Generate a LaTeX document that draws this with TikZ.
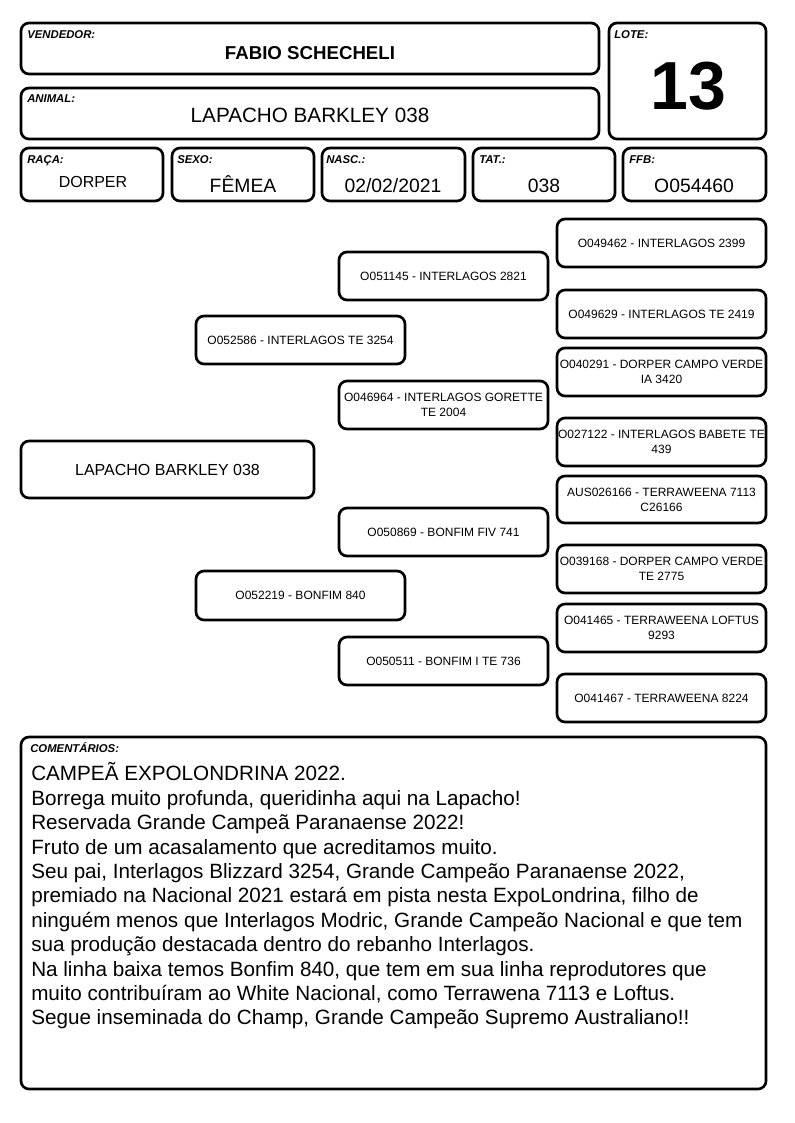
\documentclass[tikz,border=0pt]{standalone}
\usepackage{fontspec}
\setmainfont{Liberation Sans}
\begin{document}
\begin{tikzpicture}[x=0.75pt,y=-0.75pt,
  box/.style={draw,line width=2pt,rounded corners=6pt},
  tag/.style={anchor=base west,inner sep=0pt,font=\fontsize{8.5}{9}\selectfont\bfseries\itshape},
  val/.style={anchor=base,inner sep=0pt,font=\fontsize{14.5}{17}\selectfont},
  ped/.style={inner sep=0pt,align=center,font=\fontsize{9}{11.25}\selectfont}]
\useasboundingbox (0,0) rectangle (794,1123);

% header boxes
\draw[box] (21,23) rectangle (599,74);
\draw[box] (21,88) rectangle (599,139);
\draw[box] (609,23) rectangle (766,139);
\draw[box] (21,148) rectangle (163,201);
\draw[box] (172,148) rectangle (314,201);
\draw[box] (322,148) rectangle (465,201);
\draw[box] (473,148) rectangle (615,201);
\draw[box] (623,148) rectangle (766,201);

\node[tag] (vendedor) at (27,39) {VENDEDOR:};
\node[val,font=\fontsize{14}{17}\selectfont\bfseries] (seller) at (310,60) {FABIO SCHECHELI};
\node[tag] (animal) at (27,103) {ANIMAL:};
\node[val,font=\fontsize{15.5}{18}\selectfont] (name) at (310,123) {LAPACHO BARKLEY 038};
\node[tag] (lote) at (614,39) {LOTE:};
\node[val,font=\fontsize{51}{55}\selectfont\bfseries] (lotno) at (688,110) {13};

\node[tag] (raca) at (27,164) {RAÇA:};
\node[val,font=\fontsize{12}{14}\selectfont] (breed) at (93,188) {DORPER};
\node[tag] (sexo) at (177,164) {SEXO:};
\node[val] (sex) at (243,193) {FÊMEA};
\node[tag] (nasc) at (326,164) {NASC.:};
\node[val] (birth) at (393,193) {02/02/2021};
\node[tag] (tat) at (479,164) {TAT.:};
\node[val] (tattoo) at (544,193) {038};
\node[tag] (ffb) at (629,164) {FFB:};
\node[val] (reg) at (694,193) {O054460};

% pedigree
\draw[box] (21,441) rectangle (314,498);
\node[ped,font=\fontsize{12}{14}\selectfont] (calf) at (167.5,469.5) {LAPACHO BARKLEY 038};

\draw[box] (196,316) rectangle (405,364);
\node[ped] (sire) at (300.5,340) {O052586 - INTERLAGOS TE 3254};
\draw[box] (196,571) rectangle (405,620);
\node[ped] (dam) at (300.5,595.5) {O052219 - BONFIM 840};

\draw[box] (339,252) rectangle (548,300);
\node[ped] (ss) at (443.5,276) {O051145 - INTERLAGOS 2821};
\draw[box] (339,381) rectangle (548,429);
\node[ped] (sd) at (443.5,405) {O046964 - INTERLAGOS GORETTE\\TE 2004};
\draw[box] (339,508) rectangle (548,556);
\node[ped] (ds) at (443.5,532) {O050869 - BONFIM FIV 741};
\draw[box] (339,637) rectangle (548,685);
\node[ped] (dd) at (443.5,661) {O050511 - BONFIM I TE 736};

\draw[box] (557,219) rectangle (766,267);
\node[ped] (sss) at (661.5,243) {O049462 - INTERLAGOS 2399};
\draw[box] (557,290) rectangle (766,338);
\node[ped] (ssd) at (661.5,314) {O049629 - INTERLAGOS TE 2419};
\draw[box] (557,348) rectangle (766,396);
\node[ped] (sds) at (661.5,372) {O040291 - DORPER CAMPO VERDE\\IA 3420};
\draw[box] (557,418) rectangle (766,466);
\node[ped] (sdd) at (661.5,442) {O027122 - INTERLAGOS BABETE TE\\439};
\draw[box] (557,476) rectangle (766,523);
\node[ped] (dss) at (661.5,499.5) {AUS026166 - TERRAWEENA 7113\\C26166};
\draw[box] (557,545) rectangle (766,593);
\node[ped] (dsd) at (661.5,569) {O039168 - DORPER CAMPO VERDE\\TE 2775};
\draw[box] (557,604) rectangle (766,652);
\node[ped] (dds) at (661.5,628) {O041465 - TERRAWEENA LOFTUS\\9293};
\draw[box] (557,674) rectangle (766,722);
\node[ped] (ddd) at (661.5,698) {O041467 - TERRAWEENA 8224};

% comments
\draw[box] (21,737) rectangle (766,1089);
\node[tag] (coment) at (30,752) {COMENTÁRIOS:};
\node[anchor=north west,inner sep=0pt,align=left,font=\fontsize{15.5}{18.3}\selectfont] (notes) at (31,762.5) {CAMPEÃ EXPOLONDRINA 2022.\\
Borrega muito profunda, queridinha aqui na Lapacho!\\
Reservada Grande Campeã Paranaense 2022!\\
Fruto de um acasalamento que acreditamos muito.\\
Seu pai, Interlagos Blizzard 3254, Grande Campeão Paranaense 2022,\\
premiado na Nacional 2021 estará em pista nesta ExpoLondrina, filho de\\
ninguém menos que Interlagos Modric, Grande Campeão Nacional e que tem\\
sua produção destacada dentro do rebanho Interlagos.\\
Na linha baixa temos Bonfim 840, que tem em sua linha reprodutores que\\
muito contribuíram ao White Nacional, como Terrawena 7113 e Loftus.\\
Segue inseminada do Champ, Grande Campeão Supremo Australiano!!};
\end{tikzpicture}
\end{document}
